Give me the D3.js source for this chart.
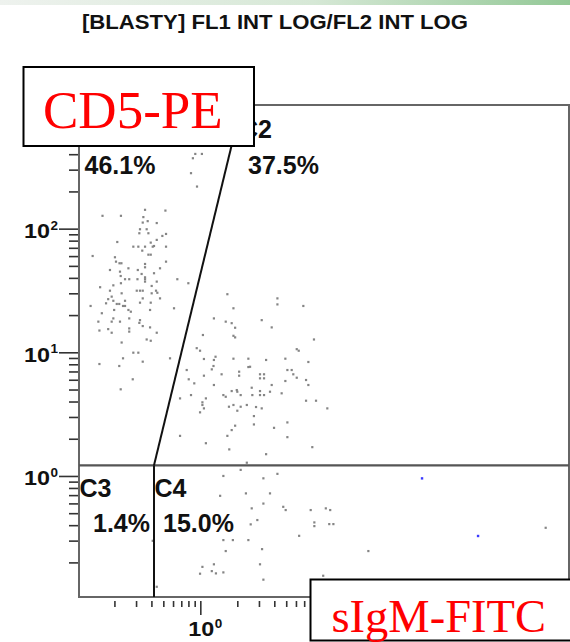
<!DOCTYPE html>
<html><head><meta charset="utf-8">
<script src="https://cdn.jsdelivr.net/npm/d3@7"></script>
<style>body{margin:0;background:#fff;} svg{display:block}</style>
</head><body>
<svg id="chart" width="570" height="642"></svg>
<script>
// ---------------- data ----------------
const title = "[BLASTY] FL1 INT LOG/FL2 INT LOG";
const yAxisName = "CD5-PE";
const xAxisName = "sIgM-FITC";
const quadrantNames = ["C1", "C2", "C3", "C4"];
const quadrantPcts = ["46.1%", "37.5%", "1.4%", "15.0%"];
const xDomain = [0.103, 1000];
const yDomain = [0.105, 1000];
const yMajorTicks = [1, 10, 100, 1000];
const yTickExps = ["0", "1", "2"];
const xMajorTicks = [1, 10, 100];
const xTickExps = ["0"];
const minorMultipliers = [2, 3, 4, 5, 6, 7, 8, 9];
const decades = [0.1, 1, 10, 100];
// gate: vertical / horizontal split, diagonal end at top
const gateX = 0.42;
const gateY = 1.22;
const gateDiagTopX = 2.16;

// FL1 (x), FL2 (y) events
const c1Points = [[0.91,402],[1.03,402],[0.87,371],[0.84,281],[0.94,219],[0.355,142],[0.52,140],[0.16,127],[0.226,127],[0.344,124],[0.373,115],[0.34,112],[0.442,111],[0.366,98.9],[0.323,98.9],[0.526,90.6],[0.319,91.8],[0.378,91.8],[0.491,87.3],[0.442,81.1],[0.211,78],[0.395,77.1],[0.42,72.4],[0.285,71.5],[0.313,71.5],[0.355,71.5],[0.41,71.5],[0.526,71.5],[0.337,66.4],[0.133,60.1],[0.202,58.7],[0.378,61.6],[0.395,61.6],[0.206,54.1],[0.22,52.5],[0.228,52.5],[0.355,51.8],[0.526,54.1],[0.26,47.8],[0.355,48.7],[0.47,47.8],[0.184,46.3],[0.31,46.3],[0.222,44.9],[0.42,43.6],[0.333,43],[0.355,40.4],[0.355,39],[0.355,37.3],[0.225,41.4],[0.244,39],[0.264,39],[0.308,39],[0.65,39],[0.799,36.2],[0.442,37.3],[0.226,36.2],[0.196,34.8],[0.153,33.6],[0.402,34.4],[0.304,31.5],[0.323,31.5],[0.34,31.5],[0.436,31.5],[0.447,30.3],[0.184,31.5],[0.402,30],[0.229,30],[0.19,28.2],[0.178,26.9],[0.47,27.3],[0.34,27.3],[0.196,26.1],[0.244,26.1],[0.171,24.9],[0.209,24.6],[0.219,24.6],[0.323,25.2],[0.395,25.2],[0.235,23.7],[0.244,23.7],[0.128,23.7],[0.611,22.7],[0.199,22],[0.26,22],[0.272,21.3],[0.39,22],[0.158,20.7],[0.196,18.8],[0.264,18.8],[0.323,18.2],[0.319,17.3],[0.148,17.7],[0.19,17.7],[0.222,17.7],[0.34,16.3],[0.39,15.9],[0.264,15.6],[0.178,15.4],[0.151,15],[0.19,14.4],[0.442,14.4],[0.264,14.7],[0.366,12.7],[0.395,12.4],[0.229,12],[0.285,9.93],[0.313,9.93],[0.235,8.94],[0.151,8.04],[0.34,8.4],[0.219,7.75],[0.282,6.05],[0.225,5.02],[0.567,8.94]];
const c2Points = [[1.05,13.8],[0.935,10.8],[0.995,10.3],[1.66,29.5],[4.24,27.3],[4.24,24.4],[1.86,22.7],[6.89,23.7],[1.29,18.8],[1.61,17.7],[1.8,17.2],[3.16,18.2],[1.92,15.8],[3.81,15.9],[1.86,13.6],[1.92,13.2],[8.41,12.7],[6.09,10.6],[6.32,10.3],[1.33,9.21],[1.29,8.67],[1.07,8.83],[1.86,8.88],[2.46,8.88],[3.43,8.67],[4.92,8.88],[7.57,8.35],[1.28,7.75],[1.24,7.28],[0.775,7.19],[2.46,7.6],[2.54,7.64],[2.07,6.97],[2.07,6.47],[3.06,6.64],[3.3,6.64],[3.06,6.16],[3.3,6.16],[5.11,7.19],[5.54,7.19],[5.71,6.64],[0.805,6.05],[0.893,5.61],[1.49,6.64],[1.07,6.47],[4.92,5.86],[6.09,6.23],[7.25,5.97],[1.29,5.44],[7.57,5.44],[3.81,5.44],[2.62,5.17],[1.8,4.86],[1.98,4.95],[2.0,4.8],[3.06,4.86],[3.69,4.8],[0.84,4.51],[1.54,4.51],[1.61,4.37],[2.13,4.51],[2.65,4.51],[3.06,4.51],[3.3,4.51],[4.59,4.66],[0.684,4.24],[1.11,4.24],[1.04,3.94],[1.04,3.75],[7.25,4.06],[8.74,4.06],[2.39,3.75],[1.86,3.75],[1.71,3.63],[2.13,3.63],[2.84,3.61],[3.16,3.52],[1.07,3.52],[2.0,3.37],[10.8,3.52],[0.995,3.27],[2.73,3.05],[2.73,2.61],[5.11,2.71],[1.92,2.55],[3.98,2.45],[1.8,2.35],[0.684,2.11],[1.66,2.11],[5.11,2.06],[1.11,1.84],[8.15,1.71],[1.72,1.64],[3.43,1.5],[2.39,1.28]];
const c3Points = [[0.41,0.299]];
const c4Points = [[2.13,1.12],[4.24,1.04],[1.54,1.0],[3.26,0.957],[2.35,0.723],[1.45,0.691],[3.69,0.723],[3.26,0.598],[4.73,0.563],[4.95,0.53],[2.62,0.547],[7.91,0.53],[10.5,0.547],[11.4,0.53],[2.91,0.44],[2.57,0.406],[8.47,0.421],[8.47,0.393],[11.2,0.408],[12.1,0.408],[6.37,0.328],[1.54,0.303],[1.84,0.303],[2.46,0.303],[3.18,0.256],[1.61,0.247],[1.29,0.193],[1.04,0.184],[3.06,0.193],[1.24,0.17],[1.34,0.163],[1.54,0.166],[0.995,0.162],[10.0,0.156],[3.26,0.145],[23.3,0.247],[646,0.381],[0.442,0.127]];
const bluePoints = [[63.7,0.956],[182,0.327]];

// ---------------- drawing ----------------
const svg = d3.select("#chart");
const sans = "'Liberation Sans', Arial, sans-serif";
const serif = "'Liberation Serif', 'Times New Roman', serif";

const x = d3.scaleLog().domain(xDomain).range([79, 569]);
const y = d3.scaleLog().domain(yDomain).range([597, 105]);

// top decorative band
const defs = svg.append("defs");
const grad = defs.append("linearGradient").attr("id", "band");
grad.append("stop").attr("offset", "0").attr("stop-color", "#eef2ee");
grad.append("stop").attr("offset", "0.55").attr("stop-color", "#d6e8d6");
grad.append("stop").attr("offset", "1").attr("stop-color", "#93c896");
svg.append("rect").attr("x", 0).attr("y", 0).attr("width", 570).attr("height", 5).attr("fill", "url(#band)");

// title
svg.append("text").attr("x", 82).attr("y", 29)
  .attr("font-family", sans).attr("font-weight", "bold").attr("font-size", 20.5)
  .attr("textLength", 386).attr("lengthAdjust", "spacingAndGlyphs")
  .attr("fill", "#111").text(title);

// minor tick values
const minorTicks = [];
decades.forEach(d => minorMultipliers.forEach(m => minorTicks.push(d * m)));
const yMinor = minorTicks.filter(v => v >= yDomain[0] && v <= yDomain[1]);
const xMinor = minorTicks.filter(v => v >= xDomain[0] && v <= xDomain[1]);

function styleAxis(g) {
  g.select(".domain").remove();
  g.selectAll(".tick line").attr("stroke", "#333").attr("stroke-width", 1.6);
  g.selectAll(".tick text").remove();
}

// y axis
svg.append("g").attr("transform", "translate(78,0)")
  .call(d3.axisLeft(y).tickValues(yMinor).tickSize(9).tickFormat(""))
  .call(styleAxis);
svg.append("g").attr("transform", "translate(78,0)")
  .call(d3.axisLeft(y).tickValues(yMajorTicks).tickSize(19).tickFormat(""))
  .call(styleAxis);

// x axis
svg.append("g").attr("transform", "translate(0,601)")
  .call(d3.axisBottom(x).tickValues(xMinor).tickSize(6).tickFormat(""))
  .call(styleAxis);
svg.append("g").attr("transform", "translate(0,601)")
  .call(d3.axisBottom(x).tickValues(xMajorTicks).tickSize(14).tickFormat(""))
  .call(styleAxis);

// y tick labels
yTickExps.forEach((e, i) => {
  const v = yMajorTicks[i];
  const g = svg.append("g").attr("font-family", sans).attr("font-weight", "bold").attr("fill", "#111");
  g.append("text").attr("x", 24).attr("y", y(v) + 9.5).attr("font-size", 20)
    .attr("textLength", 26).attr("lengthAdjust", "spacingAndGlyphs").text("10");
  g.append("text").attr("x", 50.5).attr("y", y(v) + 1).attr("font-size", 13.5).text(e);
});
// x tick labels
xTickExps.forEach((e, i) => {
  const v = xMajorTicks[i];
  const g = svg.append("g").attr("font-family", sans).attr("font-weight", "bold").attr("fill", "#111");
  g.append("text").attr("x", x(v) - 12).attr("y", 636).attr("font-size", 20)
    .attr("textLength", 26).attr("lengthAdjust", "spacingAndGlyphs").text("10");
  g.append("text").attr("x", x(v) + 14.5).attr("y", 628).attr("font-size", 13.5).text(e);
});

// frame
svg.append("rect").attr("x", x(xDomain[0])).attr("y", y(yDomain[1]))
  .attr("width", x(xDomain[1]) - x(xDomain[0])).attr("height", y(yDomain[0]) - y(yDomain[1]))
  .attr("fill", "none").attr("stroke", "#666").attr("stroke-width", 2);

// events
const grayPts = c1Points.concat(c2Points, c3Points, c4Points);
svg.append("g").selectAll("rect").data(grayPts).join("rect")
  .attr("x", d => x(d[0]) - 1.1).attr("y", d => y(d[1]) - 1.1)
  .attr("width", 2.2).attr("height", 2.2).attr("fill", "#858585");
svg.append("g").selectAll("rect").data(bluePoints).join("rect")
  .attr("x", d => x(d[0]) - 1.2).attr("y", d => y(d[1]) - 1.2)
  .attr("width", 2.4).attr("height", 2.4).attr("fill", "#3a3aff");

// gates
svg.append("line").attr("x1", x(xDomain[0])).attr("x2", x(xDomain[1]))
  .attr("y1", y(gateY)).attr("y2", y(gateY)).attr("stroke", "#555").attr("stroke-width", 2.2);
svg.append("line").attr("x1", x(gateX)).attr("x2", x(gateX))
  .attr("y1", y(gateY)).attr("y2", y(yDomain[0])).attr("stroke", "#111").attr("stroke-width", 2);
svg.append("line").attr("x1", x(gateX)).attr("x2", x(gateDiagTopX))
  .attr("y1", y(gateY)).attr("y2", y(yDomain[1])).attr("stroke", "#111").attr("stroke-width", 2);

// quadrant labels
const lab = svg.append("g").attr("font-family", sans).attr("font-weight", "bold").attr("font-size", 25).attr("fill", "#111");
lab.append("text").attr("x", 84.5).attr("y", 173.5).text(quadrantPcts[0]);
lab.append("text").attr("x", 240).attr("y", 137.5).text(quadrantNames[1]);
lab.append("text").attr("x", 248).attr("y", 174).text(quadrantPcts[1]);
lab.append("text").attr("x", 79.5).attr("y", 496.7).text(quadrantNames[2]);
lab.append("text").attr("x", 93).attr("y", 531.7).text(quadrantPcts[2]);
lab.append("text").attr("x", 154.5).attr("y", 496.7).text(quadrantNames[3]);
lab.append("text").attr("x", 163).attr("y", 531.7).text(quadrantPcts[3]);

// axis name boxes
svg.append("rect").attr("x", 23.5).attr("y", 67).attr("width", 230.5).attr("height", 79)
  .attr("fill", "#fff").attr("stroke", "#000").attr("stroke-width", 2);
svg.append("text").attr("x", 43).attr("y", 128.3).attr("font-family", serif).attr("font-size", 53)
  .attr("fill", "#ff0000").text(yAxisName);

svg.append("rect").attr("x", 310.5).attr("y", 579.5).attr("width", 270).attr("height", 61)
  .attr("fill", "#fff").attr("stroke", "#000").attr("stroke-width", 2);
svg.append("text").attr("x", 331.5).attr("y", 631.5).attr("font-family", serif).attr("font-size", 46.5)
  .attr("fill", "#ff0000").text(xAxisName);
</script>
</body></html>
